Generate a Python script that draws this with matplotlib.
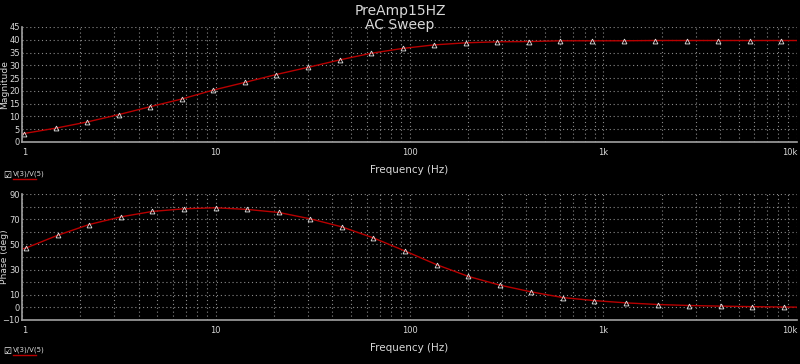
#!/usr/bin/env python3
# -*- coding: utf-8 -*-

import matplotlib
matplotlib.use("Agg")
import matplotlib.pyplot as plt
from matplotlib.ticker import FixedLocator, FixedFormatter, LogLocator, NullFormatter

mag_freq = [1.0, 1.02, 1.49, 2.16, 3.15, 4.58, 6.66, 9.69, 14.1, 20.5, 29.9, 43.5, 63.2,
            92.0, 134, 195, 284, 413, 600, 873, 1271, 1849, 2690, 3914, 5694, 8285, 10000]
mag_vals = [3.1, 3.3, 5.4, 7.8, 10.7, 13.8, 16.8, 20.3, 23.3, 26.4, 29.2, 32.1, 34.7,
            36.6, 38.0, 38.8, 39.2, 39.3, 39.6, 39.6, 39.6, 39.7, 39.7, 39.7, 39.7, 39.7, 39.7]

ph_freq = [1.0, 1.05, 1.53, 2.22, 3.24, 4.71, 6.85, 9.97, 14.5, 21.1, 30.8, 44.8, 65.0,
           94.7, 138, 201, 292, 425, 617, 898, 1308, 1903, 2768, 4027, 5859, 8525, 10000]
ph_vals = [46.4, 47.2, 57.3, 65.8, 71.9, 76.2, 78.3, 79.1, 77.8, 75.4, 70.3, 63.9, 55.2,
           44.8, 33.9, 24.6, 17.7, 12.3, 7.8, 5.4, 3.6, 2.3, 1.5, 1.0, 0.6, 0.3, 0.2]

x_ticks = [1, 10, 100, 1000, 10000]
x_labels = ["1", "10", "100", "1k", "10k"]
mag_ticks = [0, 5, 10, 15, 20, 25, 30, 35, 40, 45]
ph_ticks = [-10, 0, 10, 30, 50, 70, 90]

TXT = "#d8d8d8"
GRID = "#8a8a8a"
LINE = "#b80000"

fig = plt.figure(figsize=(8.0, 3.64), dpi=100, facecolor="black")


def setup(ax, ylim, yticks, ystep, ylabel):
    ax.set_facecolor("black")
    ax.set_xscale("log")
    ax.set_xlim(1, 10000)
    ax.set_ylim(*ylim)
    ax.xaxis.set_major_locator(FixedLocator(x_ticks))
    ax.xaxis.set_major_formatter(FixedFormatter(x_labels))
    ax.xaxis.set_minor_locator(LogLocator(base=10, subs=range(2, 10)))
    ax.xaxis.set_minor_formatter(NullFormatter())
    ax.yaxis.set_major_locator(FixedLocator(yticks))
    ax.set_yticks(list(range(ylim[0], ylim[1] + 1, ystep)), minor=True)
    ax.tick_params(colors=TXT, labelsize=6.0, length=0, pad=1.5)
    ax.tick_params(axis="x", pad=4)
    ax.grid(True, which="both", color=GRID, linestyle=(0, (1, 2.5)), linewidth=0.8)
    for s in ("top", "right"):
        ax.spines[s].set_visible(False)
    for s in ("left", "bottom"):
        ax.spines[s].set_color("#a0a0a0")
        ax.spines[s].set_linewidth(1.2)
    # last x label sits flush with the right edge
    fig.canvas.draw()
    labs = ax.get_xticklabels()
    labs[-1].set_horizontalalignment("right")
    labs[0].set_horizontalalignment("left")
    ax.set_xlabel("Frequency (Hz)", color=TXT, fontsize=7.5, labelpad=6)
    ax.set_ylabel(ylabel, color=TXT, fontsize=6.6)
    ax.yaxis.set_label_coords(-0.0168, 0.5)


ax1 = fig.add_axes([0.0275, 0.6099, 0.969, 0.316])
setup(ax1, (0, 45), mag_ticks, 5, "Magnitude")
ax1.plot(mag_freq, mag_vals, color=LINE, linewidth=1.0, marker="^", markersize=3.5,
         markerfacecolor="none", markeredgecolor="#e0e0e0", markeredgewidth=0.6,
         markevery=list(range(1, len(mag_freq) - 1)))

ax2 = fig.add_axes([0.0275, 0.1209, 0.969, 0.346])
setup(ax2, (-10, 90), ph_ticks, 10, "Phase (deg)")
ax2.plot(ph_freq, ph_vals, color=LINE, linewidth=1.0, marker="^", markersize=3.5,
         markerfacecolor="none", markeredgecolor="#e0e0e0", markeredgewidth=0.6,
         markevery=list(range(1, len(ph_freq) - 1)))

fig.text(0.5, 0.988, "PreAmp15HZ", color=TXT, fontsize=10, ha="center", va="top")
fig.text(0.5, 0.950, "AC Sweep", color=TXT, fontsize=10, ha="center", va="top")

# legend entries (checkbox + trace name with red underline)
for ytop in (1 - 175 / 364, 1 - 351 / 364):
    fig.text(0.004, ytop, "\u2611", color="white", fontsize=6.5, ha="left", va="center")
    fig.text(0.016, ytop + 0.003, "V(3)/V(5)", color=TXT, fontsize=5, ha="left", va="center")
    fig.lines.append(plt.Line2D([0.016, 0.045], [ytop - 0.012, ytop - 0.012],
                                transform=fig.transFigure, color=LINE, linewidth=1.0))

fig.savefig("out.png", dpi=100, facecolor="black")
